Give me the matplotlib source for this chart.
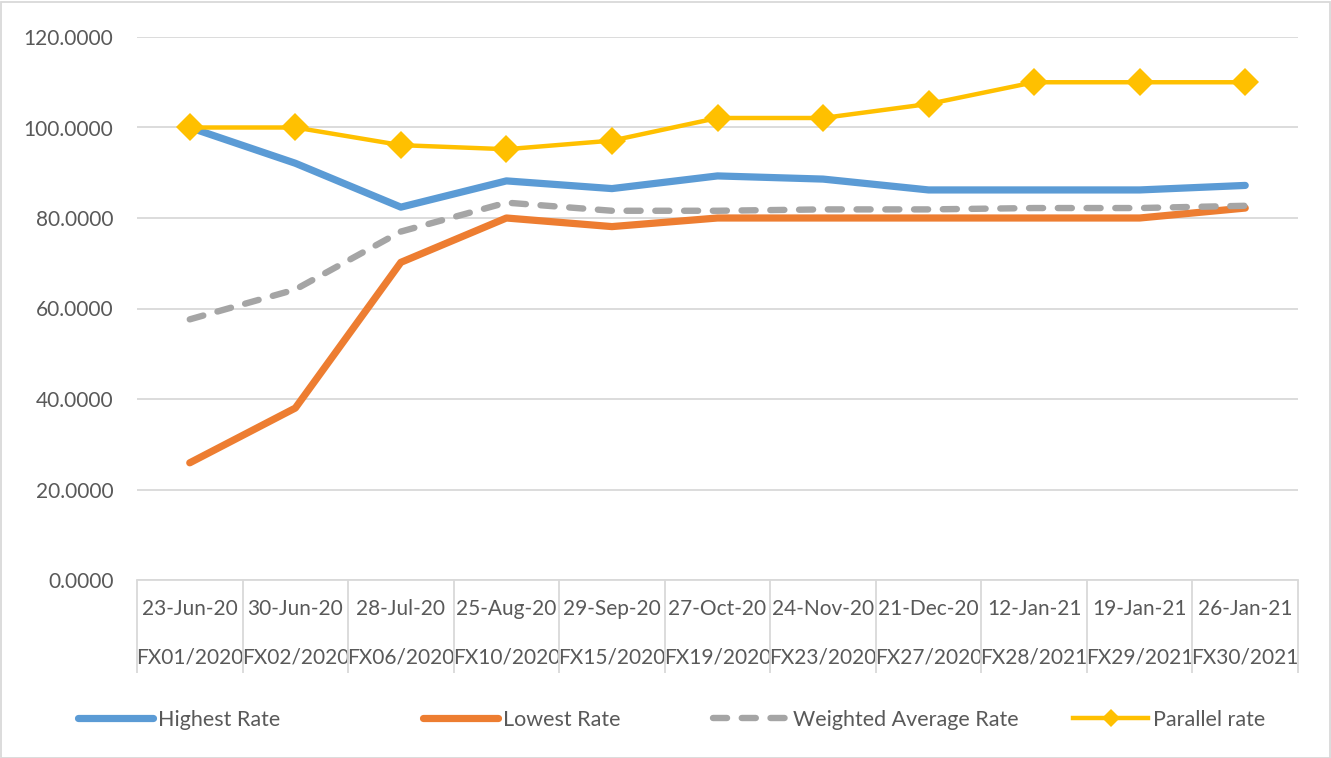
import matplotlib
matplotlib.use("Agg")
from matplotlib import pyplot as plt
from matplotlib.patches import Rectangle
from matplotlib.lines import Line2D
from matplotlib.ticker import FuncFormatter

dates = ['23-Jun-20', '30-Jun-20', '28-Jul-20', '25-Aug-20', '29-Sep-20', '27-Oct-20',
         '24-Nov-20', '21-Dec-20', '12-Jan-21', '19-Jan-21', '26-Jan-21']
auctions = ['FX01/2020', 'FX02/2020', 'FX06/2020', 'FX10/2020', 'FX15/2020', 'FX19/2020',
            'FX23/2020', 'FX27/2020', 'FX28/2021', 'FX29/2021', 'FX30/2021']

highest = [100.0, 92.1, 82.4, 88.2, 86.5, 89.3, 88.6, 86.2, 86.2, 86.2, 87.2]
lowest = [25.9, 38.0, 70.2, 80.0, 78.1, 80.0, 80.0, 80.0, 80.0, 80.0, 82.2]
weighted = [57.6, 64.2, 77.0, 83.4, 81.6, 81.6, 81.9, 81.9, 82.2, 82.2, 82.7]
parallel = [100.0, 100.0, 96.1, 95.2, 97.1, 102.1, 102.1, 105.2, 110.0, 110.0, 110.0]

blue = '#5B9BD5'
orange = '#ED7D31'
grey = '#A5A5A5'
gold = '#FFC000'
txt = '#595959'
grid = '#D9D9D9'

plt.rcParams['font.family'] = ['Lato', 'DejaVu Sans']

fig = plt.figure(figsize=(13.31, 7.58), dpi=100)
ax = fig.add_axes([137/1331, 1 - 580/758, (1298-137)/1331, (580-37)/758])

x = list(range(len(dates)))
ax.plot(x, highest, color=blue, lw=5.2, solid_capstyle='round', solid_joinstyle='round')
ax.plot(x, lowest, color=orange, lw=5.2, solid_capstyle='round', solid_joinstyle='round')
ax.plot(x, weighted, color=grey, lw=4.6, dashes=(2.2, 2.3), dash_capstyle='round')
ax.plot(x, parallel, color=gold, lw=3.2, marker='D', markersize=14, markeredgewidth=0)

ax.set_xlim(-0.5, len(dates) - 0.5)
ax.set_ylim(0, 120)
ax.set_yticks(range(0, 121, 20))
ax.yaxis.set_major_formatter(FuncFormatter(lambda v, p: '{:.4f}'.format(v)))
ax.grid(axis='y', color=grid, lw=1.3)
ax.set_axisbelow(True)

for s in ['left', 'top', 'right']:
    ax.spines[s].set_visible(False)
ax.spines['bottom'].set_color(grid)
ax.spines['bottom'].set_linewidth(1.3)

ax.set_xticks(x)
ax.set_xticklabels([d + '\n' + a for d, a in zip(dates, auctions)], linespacing=2.75)
ax.set_xticks([i - 0.5 for i in range(len(dates) + 1)], minor=True)
ax.tick_params(axis='x', which='major', length=0, pad=14, labelsize=15, labelcolor=txt)
ax.tick_params(axis='x', which='minor', length=67, width=1.3, color=grid, direction='out')
ax.tick_params(axis='y', length=0, pad=17, labelsize=15, labelcolor=txt)

# legend entries placed one by one like Excel
entries = [
    (Line2D([], [], color=blue, lw=5.2, solid_capstyle='round'), 'Highest Rate', 78),
    (Line2D([], [], color=orange, lw=5.2, solid_capstyle='round'), 'Lowest Rate', 423),
    (Line2D([], [], color=grey, lw=4.6, dashes=(2.2, 2.3), dash_capstyle='round'),
     'Weighted Average Rate', 713),
    (Line2D([], [], color=gold, lw=3.2, marker='D', markersize=9, markeredgewidth=0),
     'Parallel rate', 1073),
]
for h, lab, px in entries:
    fig.legend([h], [lab], loc='center left', bbox_to_anchor=(px/1331, 1 - 720/758),
               frameon=False, fontsize=15.5, labelcolor=txt, handlelength=3.5,
               handletextpad=0.2, borderaxespad=0, borderpad=0)

fig.patches.append(Rectangle((0.5/1331, 0.5/758), 1 - 2/1331, 1 - 2/758,
                             transform=fig.transFigure, fill=False, ec=grid, lw=1.3))

fig.savefig('out.png', dpi=100)
